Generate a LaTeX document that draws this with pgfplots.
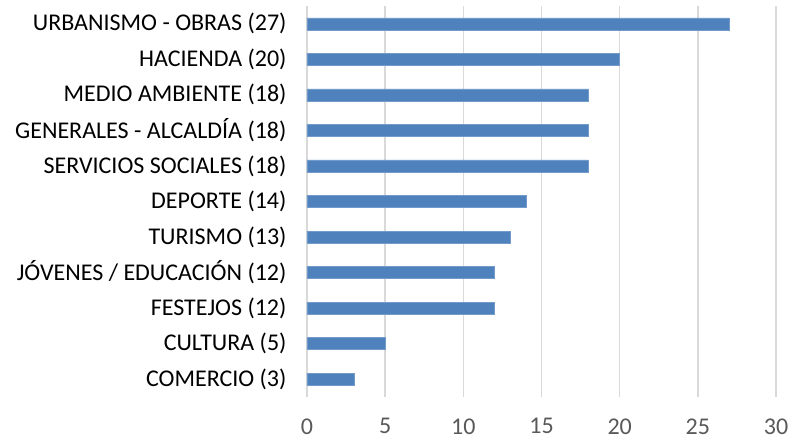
\documentclass[border=0pt]{standalone}
\usepackage{fontspec}
\setmainfont{Carlito}
\usepackage{pgfplots}
\pgfplotsset{compat=1.18}
\definecolor{barblue}{HTML}{4F81BD}
\definecolor{gridgray}{HTML}{D9D9D9}
\definecolor{ticktext}{HTML}{595959}

\begin{document}
\begin{tikzpicture}
\begin{axis}[
    scale only axis,
    width=469pt, height=391pt,
    xbar, bar width=12pt,
    xmin=0, xmax=30,
    ymin=-0.5, ymax=10.5,
    xtick={0,5,...,30},
    ytick={0,...,10},
    yticklabels={COMERCIO (3), CULTURA (5), FESTEJOS (12), JÓVENES / EDUCACIÓN (12),
        TURISMO (13), DEPORTE (14), SERVICIOS SOCIALES (18), GENERALES - ALCALDÍA (18),
        MEDIO AMBIENTE (18), HACIENDA (20), URBANISMO - OBRAS (27)},
    axis line style={draw=none},
    major tick length=0pt,
    xmajorgrids,
    grid style={gridgray, line width=1.5pt},
    xticklabel style={font=\fontsize{24}{26}\selectfont, text=ticktext, yshift=-18pt},
    yticklabel style={font=\fontsize{24}{26}\selectfont, text=black, xshift=-17pt},
    /pgf/number format/assume math mode=true,
]
\addplot[fill=barblue, draw=barblue!80!white] coordinates {
    (3,0) (5,1) (12,2) (12,3) (13,4) (14,5) (18,6) (18,7) (18,8) (20,9) (27,10)
};
\end{axis}
\pgfresetboundingbox
\path[use as bounding box] (-307pt,-42pt) rectangle (482pt,397pt);
\end{tikzpicture}
\end{document}
